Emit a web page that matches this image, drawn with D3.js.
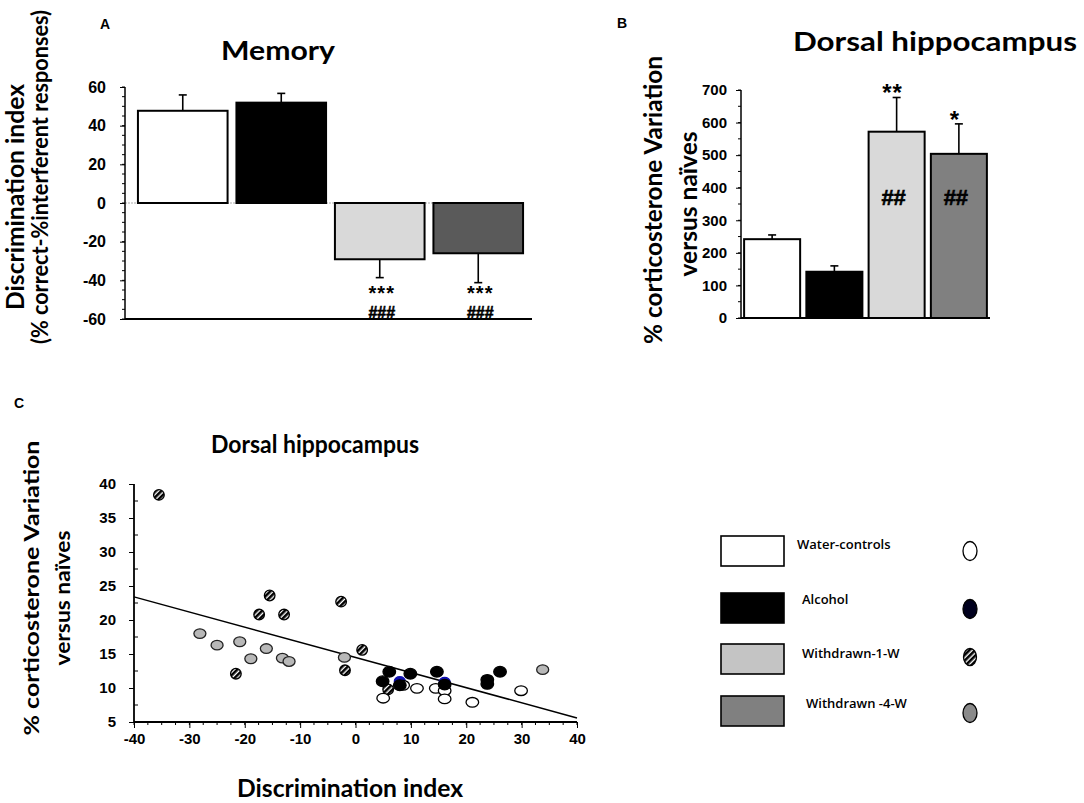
<!DOCTYPE html>
<html>
<head>
<meta charset="utf-8">
<script src="https://cdn.jsdelivr.net/npm/d3@7"></script>
<style>
  body { margin: 0; background: #fff; }
  svg text { fill: #000; }
  .tick-lbl { font-family: "Liberation Sans", Arial, sans-serif; font-weight: bold; }
  .ttl { font-family: Lato, "Open Sans", sans-serif; font-weight: bold; }
  .sig { stroke: #000; stroke-width: 0.6px; }
</style>
</head>
<body>
<div id="chart"></div>
<script>
// groups shared by the three panels
const groups = ["Water-controls", "Alcohol", "Withdrawn-1-W", "Withdrawn -4-W"];
const barFillA = ["#ffffff", "#000000", "#d9d9d9", "#5a5a5a"];
const barFillB = ["#ffffff", "#000000", "#d9d9d9", "#808080"];
const legendFill = ["#ffffff", "#000000", "#c4c4c4", "#808080"];

// panel A: memory
const memoryMean = [47.7, 51.9, -29.1, -26.0];
const memoryErr = [8.2, 4.8, 9.5, 15.2];
const memoryStars = ["", "", "***", "***"];
const memoryHash = ["", "", "###", "###"];
const memoryTicks = [-60, -40, -20, 0, 20, 40, 60];

// panel B: corticosterone in dorsal hippocampus
const corticoMean = [242, 142, 572, 504];
const corticoErr = [13, 18, 105, 92];
const corticoStars = ["", "", "**", "*"];
const corticoHash = ["", "", "##", "##"];
const corticoTicks = [0, 100, 200, 300, 400, 500, 600, 700];

// panel C: scatter, discrimination index vs corticosterone
const waterX = [5.0, 8.6, 11.1, 14.5, 16.1, 16.1, 21.1, 29.9];
const waterY = [8.5, 10.4, 9.95, 9.95, 9.6, 8.4, 7.9, 9.6];
const alcoholBlueX = [8.0, 16.1];
const alcoholBlueY = [11.0, 10.9];
const alcoholX = [6.1, 4.9, 8.0, 9.9, 14.7, 16.1, 23.8, 23.8, 26.1];
const alcoholY = [12.4, 11.0, 10.4, 12.1, 12.4, 10.5, 11.2, 10.6, 12.4];
const w1X = [-35.5, -15.5, -17.4, -12.9, -2.6, 1.2, -21.6, -1.9, 5.9];
const w1Y = [38.4, 23.6, 20.8, 20.8, 22.7, 15.6, 12.1, 12.6, 9.8];
const w4X = [-28.1, -25.0, -20.9, -16.1, -18.9, -13.2, -12.0, -2.0, 33.8];
const w4Y = [18.0, 16.3, 16.8, 15.8, 14.3, 14.4, 13.9, 14.5, 12.7];
const fitX = [-40, 40];
const fitY = [23.4, 5.6];
const scatterXTicks = [-40, -30, -20, -10, 0, 10, 20, 30, 40];
const scatterYTicks = [5, 10, 15, 20, 25, 30, 35, 40];

const svg = d3.select("#chart").append("svg")
  .attr("width", 1084).attr("height", 803)
  .style("background", "#fff");

const defs = svg.append("defs");
const hatch = defs.append("pattern")
  .attr("id", "hatch").attr("patternUnits", "userSpaceOnUse")
  .attr("width", 4).attr("height", 4)
  .attr("patternTransform", "rotate(45)");
hatch.append("rect").attr("width", 4).attr("height", 4).attr("fill", "#fff");
hatch.append("rect").attr("width", 2.6).attr("height", 4).attr("fill", "#000");

const plain = d => String(d);

function label(x, y, txt, size, cls, anchor, rot, len) {
  const t = svg.append("text").attr("class", cls)
    .attr("font-size", size).attr("text-anchor", anchor || "middle")
    .text(txt);
  if (rot) t.attr("transform", `translate(${x},${y}) rotate(${rot})`);
  else t.attr("x", x).attr("y", y);
  if (len) t.attr("textLength", len).attr("lengthAdjust", "spacingAndGlyphs");
  return t;
}

// ---------- bar panel helper ----------
function barPanel(cfg) {
  const g = svg.append("g");
  const x = d3.scaleBand().domain(groups).range(cfg.xr)
    .paddingInner(cfg.pi).paddingOuter(cfg.po);
  const y = d3.scaleLinear().domain(cfg.dom).range(cfg.yr);

  if (cfg.zeroLine) {
    g.append("line")
      .attr("x1", cfg.axisX).attr("x2", x(groups[3]))
      .attr("y1", y(0)).attr("y2", y(0))
      .attr("stroke", "#aaa").attr("stroke-width", 1)
      .attr("stroke-dasharray", "2,1");
  }

  // error bars first (whisker goes away from zero)
  groups.forEach((k, i) => {
    const m = cfg.mean[i], e = cfg.err[i];
    const cx = x(k) + x.bandwidth() / 2;
    const tip = m >= 0 ? m + e : m - e;
    g.append("line").attr("x1", cx).attr("x2", cx)
      .attr("y1", y(m)).attr("y2", y(tip))
      .attr("stroke", "#000").attr("stroke-width", 1.6);
    g.append("line").attr("x1", cx - 4).attr("x2", cx + 4)
      .attr("y1", y(tip)).attr("y2", y(tip))
      .attr("stroke", "#000").attr("stroke-width", 1.6);
  });

  g.selectAll("rect.bar").data(cfg.mean).enter().append("rect")
    .attr("class", "bar")
    .attr("x", (d, i) => x(groups[i]))
    .attr("width", x.bandwidth())
    .attr("y", d => y(Math.max(0, d)))
    .attr("height", d => Math.abs(y(d) - y(0)))
    .attr("fill", (d, i) => cfg.fill[i])
    .attr("stroke", "#000").attr("stroke-width", 2);

  // axes
  const yAxis = d3.axisLeft(y).tickValues(cfg.ticks).tickSize(5)
    .tickPadding(cfg.pad).tickFormat(plain);
  const ya = g.append("g").attr("transform", `translate(${cfg.axisX},0)`).call(yAxis);
  ya.select(".domain").attr("stroke-width", 1.5).attr("d", `M0,${cfg.yr[0]}V${cfg.yr[1]}`);
  ya.selectAll("text").attr("class", "tick-lbl").attr("font-size", cfg.tickSize);
  const minor = d3.range(cfg.dom[0], cfg.dom[1] + 0.001, cfg.minorStep);
  g.selectAll("line.minor").data(minor).enter().append("line")
    .attr("x1", cfg.axisX - 3).attr("x2", cfg.axisX)
    .attr("y1", d => y(d)).attr("y2", d => y(d))
    .attr("stroke", "#000").attr("stroke-width", 1);
  g.append("line")
    .attr("x1", cfg.axisX).attr("x2", cfg.xEnd)
    .attr("y1", cfg.yr[0]).attr("y2", cfg.yr[0])
    .attr("stroke", "#000").attr("stroke-width", 1.8);

  return { g, x, y };
}

// ---------- A: Memory ----------
const A = barPanel({
  xr: [134, 527], pi: 0.09, po: 0.04, dom: [-60, 60], yr: [319, 87],
  mean: memoryMean, err: memoryErr, fill: barFillA, ticks: memoryTicks,
  axisX: 125, xEnd: 532, pad: 14, tickSize: 16, minorStep: 5, zeroLine: true
});
groups.forEach((k, i) => {
  const cx = A.x(k) + A.x.bandwidth() / 2 + 2;
  if (memoryStars[i]) label(cx, 300, memoryStars[i], 20, "tick-lbl").attr("letter-spacing", 1);
  if (memoryHash[i]) label(cx, 318, memoryHash[i], 16, "tick-lbl sig");
});
label(100, 29, "A", 14, "tick-lbl", "start");
label(278, 60, "Memory", 26, "ttl", "middle", 0, 114);
label(24, 197, "Discrimination index", 24, "ttl", "middle", -90, 226);
label(48, 177, "(% correct-%interferent responses)", 22, "ttl", "middle", -90, 334);

// ---------- B: corticosterone ----------
const B = barPanel({
  xr: [741, 990], pi: 0.1, po: 0.05, dom: [0, 700], yr: [318, 90],
  mean: corticoMean, err: corticoErr, fill: barFillB, ticks: corticoTicks,
  axisX: 741, xEnd: 990, pad: 9, tickSize: 15, minorStep: 50, zeroLine: false
});
groups.forEach((k, i) => {
  const cx = B.x(k) + B.x.bandwidth() / 2;
  const tip = corticoMean[i] + corticoErr[i];
  if (corticoStars[i]) label(cx - 4, B.y(tip) + 4, corticoStars[i], 24, "tick-lbl").attr("letter-spacing", 1);
  if (corticoHash[i]) label(cx - 3, B.y(370) + 8, corticoHash[i], 22, "tick-lbl sig");
});
label(617, 28, "B", 14, "tick-lbl", "start");
label(935, 51, "Dorsal hippocampus", 27, "ttl", "middle", 0, 284);
label(662, 200, "% corticosterone  Variation", 24, "ttl", "middle", -90, 288);
label(697, 204, "versus naïves", 24, "ttl", "middle", -90, 145);

// ---------- C: scatter ----------
const sx = d3.scaleLinear().domain([-40, 40]).range([134, 577]);
const sy = d3.scaleLinear().domain([5, 40]).range([722, 484]);
const C = svg.append("g");

const xa = C.append("g").attr("transform", "translate(0,722)")
  .call(d3.axisBottom(sx).tickValues(scatterXTicks).tickSize(6).tickPadding(5).tickFormat(plain));
xa.select(".domain").attr("stroke-width", 1.8).attr("d", "M134,0H577");
xa.selectAll("text").attr("class", "tick-lbl").attr("font-size", 15);
C.selectAll("line.xminor").data(d3.range(-40, 40.01, 2.5)).enter().append("line")
  .attr("x1", d => sx(d)).attr("x2", d => sx(d))
  .attr("y1", 722).attr("y2", 725).attr("stroke", "#000");

const ya = C.append("g").attr("transform", "translate(134,0)")
  .call(d3.axisLeft(sy).tickValues(scatterYTicks).tickSize(5).tickPadding(13).tickFormat(plain));
ya.select(".domain").attr("stroke-width", 1.8).attr("d", "M0,722V484");
ya.selectAll("text").attr("class", "tick-lbl").attr("font-size", 15);
C.selectAll("line.yminor").data(d3.range(7.5, 40, 5)).enter().append("line")
  .attr("x1", 134).attr("x2", 138)
  .attr("y1", d => sy(d)).attr("y2", d => sy(d)).attr("stroke", "#000");

C.append("line")
  .attr("x1", sx(fitX[0])).attr("y1", sy(fitY[0]))
  .attr("x2", sx(fitX[1])).attr("y2", sy(fitY[1]))
  .attr("stroke", "#000").attr("stroke-width", 1.5);

function dots(xs, ys, fill, rx, ry, stroke) {
  C.selectAll(null).data(xs).enter().append("ellipse")
    .attr("cx", d => sx(d)).attr("cy", (d, i) => sy(ys[i]))
    .attr("rx", rx).attr("ry", ry)
    .attr("fill", fill).attr("stroke", stroke || "#000").attr("stroke-width", 1.3);
}
dots(w4X, w4Y, "#b8b8b8", 6, 4.8, "#222");
dots(w1X, w1Y, "url(#hatch)", 5.3, 5.3);
dots(alcoholBlueX, alcoholBlueY, "#1010b0", 5.5, 4.5, "#1010b0");
dots(waterX, waterY, "#fff", 6.3, 4.8);
dots(alcoholX, alcoholY, "#000", 6.3, 5.3);

label(14, 408, "C", 14, "tick-lbl", "start");
label(315, 453, "Dorsal hippocampus", 24, "ttl", "middle", 0, 208);
label(350, 797, "Discrimination index", 24, "ttl", "middle", 0, 226);
label(39, 588, "% corticosterone  Variation", 21, "ttl", "middle", -90, 295);
label(70, 598, "versus naïves", 21, "ttl", "middle", -90, 135);

// ---------- legend ----------
const legY = [536, 593, 644, 696];
const legTextY = [549, 604, 658, 708];
const legTextX = [797, 802, 802, 806];
const lg = svg.append("g");
groups.forEach((k, i) => {
  lg.append("rect").attr("x", 721).attr("y", legY[i]).attr("width", 63).attr("height", 30)
    .attr("fill", legendFill[i]).attr("stroke", "#000").attr("stroke-width", 1.6);
  lg.append("text").attr("x", legTextX[i]).attr("y", legTextY[i])
    .attr("font-family", "'Open Sans', sans-serif").attr("font-weight", 600)
    .attr("font-size", 13).text(k);
});
const legDotY = [551, 609, 657, 713];
const legDotFill = ["#fff", "#00001e", "url(#hatch)", "#8a8a8a"];
legDotY.forEach((cy, i) => {
  lg.append("ellipse").attr("cx", 970).attr("cy", cy)
    .attr("rx", i === 2 ? 6.5 : 7).attr("ry", i === 2 ? 8.5 : 9.5)
    .attr("fill", legDotFill[i]).attr("stroke", "#000").attr("stroke-width", 1.3);
});
</script>
</body>
</html>
